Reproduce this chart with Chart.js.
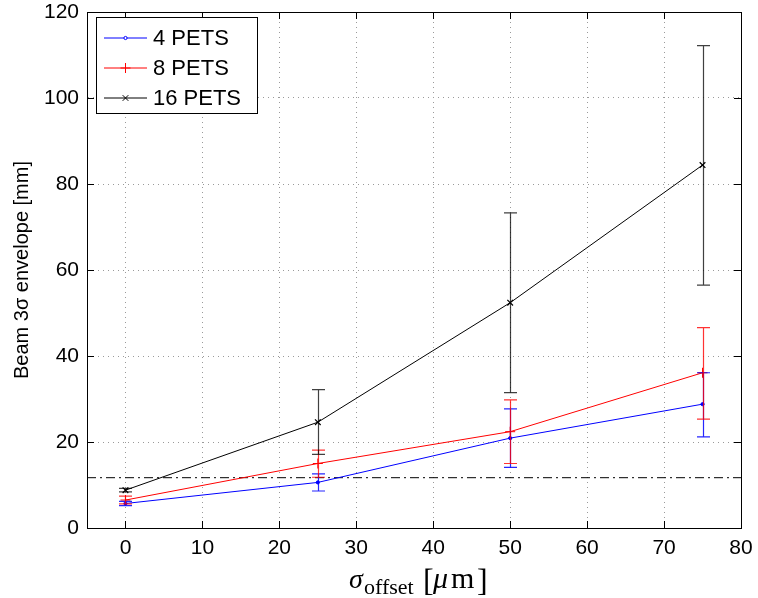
<!DOCTYPE html>
<html>
<head>
<meta charset="utf-8">
<script src="https://cdn.jsdelivr.net/npm/chart.js@4.4.1/dist/chart.umd.min.js"></script>
<style>
  html, body { margin: 0; padding: 0; background: #fff; }
  #wrap { width: 758px; height: 598px; }
</style>
</head>
<body>
<div id="wrap"><canvas id="envChart" width="758" height="598"></canvas></div>
<script>
// values
const offsets = [0, 25, 50, 75];
const xTicks = [0, 10, 20, 30, 40, 50, 60, 70, 80];
const yTicks = [0, 20, 40, 60, 80, 100, 120];
const refLevel = 11.7;

const pets4 = [5.7, 10.6, 20.9, 28.8];
const pets4Low = [5.2, 8.6, 14.1, 21.2];
const pets4High = [6.2, 12.6, 27.7, 36.1];

const pets8 = [6.5, 15.0, 22.4, 36.1];
const pets8Low = [5.6, 11.8, 15.0, 25.3];
const pets8High = [7.4, 18.1, 29.8, 46.6];

const pets16 = [8.8, 24.6, 52.4, 84.4];
const pets16Low = [8.4, 17.1, 31.5, 56.5];
const pets16High = [9.2, 32.2, 73.3, 112.2];

const seriesNames = ["4 PETS", "8 PETS", "16 PETS"];

function pts(vals) {
  return offsets.map((x, i) => ({ x: x, y: vals[i] }));
}

const sansFont = "'Liberation Sans', Arial, Helvetica, sans-serif";
const serifFont = "'Liberation Serif', 'DejaVu Serif', serif";

// error bars, drawn through the chart scales
const errorBars = {
  id: "errorBars",
  afterDatasetsDraw(chart) {
    const ctx = chart.ctx;
    const xs = chart.scales.x, ys = chart.scales.y;
    chart.data.datasets.forEach(ds => {
      if (!ds.errLow) return;
      ctx.save();
      ctx.strokeStyle = ds.errColor;
      ctx.lineWidth = 1.2;
      offsets.forEach((x, i) => {
        const px = Math.round(xs.getPixelForValue(x)) + 0.5;
        const lo = ys.getPixelForValue(ds.errLow[i]);
        const hi = ys.getPixelForValue(ds.errHigh[i]);
        ctx.beginPath();
        ctx.moveTo(px, lo); ctx.lineTo(px, hi);
        ctx.moveTo(px - 6.5, lo); ctx.lineTo(px + 6.5, lo);
        ctx.moveTo(px - 6.5, hi); ctx.lineTo(px + 6.5, hi);
        ctx.stroke();
      });
      ctx.restore();
    });
  }
};

// box, inward ticks, legend and x title (MATLAB look)
const matlabFrame = {
  id: "matlabFrame",
  afterDraw(chart) {
    const ctx = chart.ctx;
    const a = chart.chartArea;
    const xs = chart.scales.x, ys = chart.scales.y;
    ctx.save();
    ctx.strokeStyle = "#000";
    ctx.lineWidth = 1;
    ctx.strokeRect(Math.round(a.left) + 0.5, Math.round(a.top) + 0.5,
                   Math.round(a.right - a.left), Math.round(a.bottom - a.top));
    ctx.beginPath();
    xTicks.forEach(v => {
      const px = Math.round(xs.getPixelForValue(v)) + 0.5;
      ctx.moveTo(px, a.bottom); ctx.lineTo(px, a.bottom - 7);
      ctx.moveTo(px, a.top); ctx.lineTo(px, a.top + 7);
    });
    yTicks.forEach(v => {
      const py = Math.round(ys.getPixelForValue(v)) + 0.5;
      ctx.moveTo(a.left, py); ctx.lineTo(a.left + 7, py);
      ctx.moveTo(a.right, py); ctx.lineTo(a.right - 7, py);
    });
    ctx.stroke();

    // legend
    const lx = 96.5, ly = 17.5, lw = 161, lh = 96;
    ctx.fillStyle = "#fff";
    ctx.fillRect(lx, ly, lw, lh);
    ctx.strokeRect(lx, ly, lw, lh);
    ctx.font = "22px " + sansFont;
    ctx.textBaseline = "middle";
    const sets = chart.data.datasets.slice(0, 3);
    sets.forEach((ds, i) => {
      const y = 38 + i * 30;
      ctx.strokeStyle = ds.borderColor;
      ctx.lineWidth = 1;
      ctx.beginPath();
      ctx.moveTo(104, y); ctx.lineTo(147, y);
      ctx.stroke();
      Chart.helpers.drawPoint(ctx, {
        pointStyle: ds.pointStyle, radius: ds.pointRadius, borderWidth: 1
      }, 125.5, y);
      ctx.fillStyle = "#000";
      ctx.fillText(seriesNames[i], 153, y + 1);
    });

    // x axis title: sigma_offset [mu m]
    ctx.fillStyle = "#000";
    ctx.textBaseline = "alphabetic";
    const base = 588;
    ctx.font = "italic 28px " + serifFont;
    ctx.fillText("\u03c3", 349, base);
    ctx.font = "22px " + serifFont;
    ctx.fillText("offset", 364, base + 6);
    ctx.font = "32px " + serifFont;
    ctx.fillText("[", 423, base + 3);
    ctx.font = "italic 30px " + serifFont;
    ctx.fillText("\u03bc", 433, base);
    ctx.font = "30px " + serifFont;
    ctx.fillText("m", 451, base);
    ctx.font = "32px " + serifFont;
    ctx.fillText("]", 477, base + 3);
    ctx.restore();
  }
};

const ctx = document.getElementById("envChart").getContext("2d");

new Chart(ctx, {
  type: "line",
  data: {
    datasets: [
      {
        label: seriesNames[0],
        data: pts(pets4),
        errLow: pets4Low, errHigh: pets4High, errColor: "rgba(0,0,255,0.85)",
        borderColor: "#0000ff", backgroundColor: "#0000ff",
        borderWidth: 1, pointStyle: "circle", pointRadius: 1.6,
        pointBorderWidth: 1
      },
      {
        label: seriesNames[1],
        data: pts(pets8),
        errLow: pets8Low, errHigh: pets8High, errColor: "rgba(255,0,0,0.8)",
        borderColor: "#ff0000", backgroundColor: "#ff0000",
        borderWidth: 1, pointStyle: "cross", pointRadius: 5,
        pointBorderWidth: 1
      },
      {
        label: seriesNames[2],
        data: pts(pets16),
        errLow: pets16Low, errHigh: pets16High, errColor: "rgba(0,0,0,0.75)",
        borderColor: "#000000", backgroundColor: "#000000",
        borderWidth: 1, pointStyle: "crossRot", pointRadius: 4,
        pointBorderWidth: 1.2
      },
      {
        label: "reference",
        data: [{ x: -5, y: refLevel }, { x: 80, y: refLevel }],
        borderColor: "#000000",
        borderWidth: 1,
        borderDash: [9, 4, 2, 4],
        pointRadius: 0
      }
    ]
  },
  options: {
    responsive: false,
    animation: false,
    layout: { padding: { left: 0, top: 12, right: 17, bottom: 0 } },
    plugins: {
      legend: { display: false },
      tooltip: { enabled: false }
    },
    scales: {
      x: {
        type: "linear",
        min: -5,
        max: 80,
        afterBuildTicks: axis => { axis.ticks = xTicks.map(v => ({ value: v })); },
        afterFit: axis => {
          axis.height = 70;
          axis.paddingLeft = 0; axis.paddingRight = 0;
        },
        grid: { color: "#9a9a9a", drawTicks: false, lineWidth: 1 },
        border: { display: true, color: "#000", dash: [1, 4] },
        ticks: {
          padding: 8,
          color: "#000",
          font: { family: sansFont, size: 21 }
        }
      },
      y: {
        type: "linear",
        min: 0,
        max: 120,
        afterBuildTicks: axis => { axis.ticks = yTicks.map(v => ({ value: v })); },
        afterFit: axis => {
          axis.width = 87;
          axis.paddingTop = 0; axis.paddingBottom = 0;
        },
        grid: { color: "#9a9a9a", drawTicks: false, lineWidth: 1 },
        border: { display: true, color: "#000", dash: [1, 4] },
        ticks: {
          padding: 8,
          color: "#000",
          font: { family: sansFont, size: 21 }
        },
        title: {
          display: true,
          text: "Beam 3\u03c3 envelope [mm]",
          color: "#000",
          font: { family: sansFont, size: 20 },
          padding: { top: 10, bottom: 0 }
        }
      }
    }
  },
  plugins: [errorBars, matlabFrame]
});
</script>
</body>
</html>
